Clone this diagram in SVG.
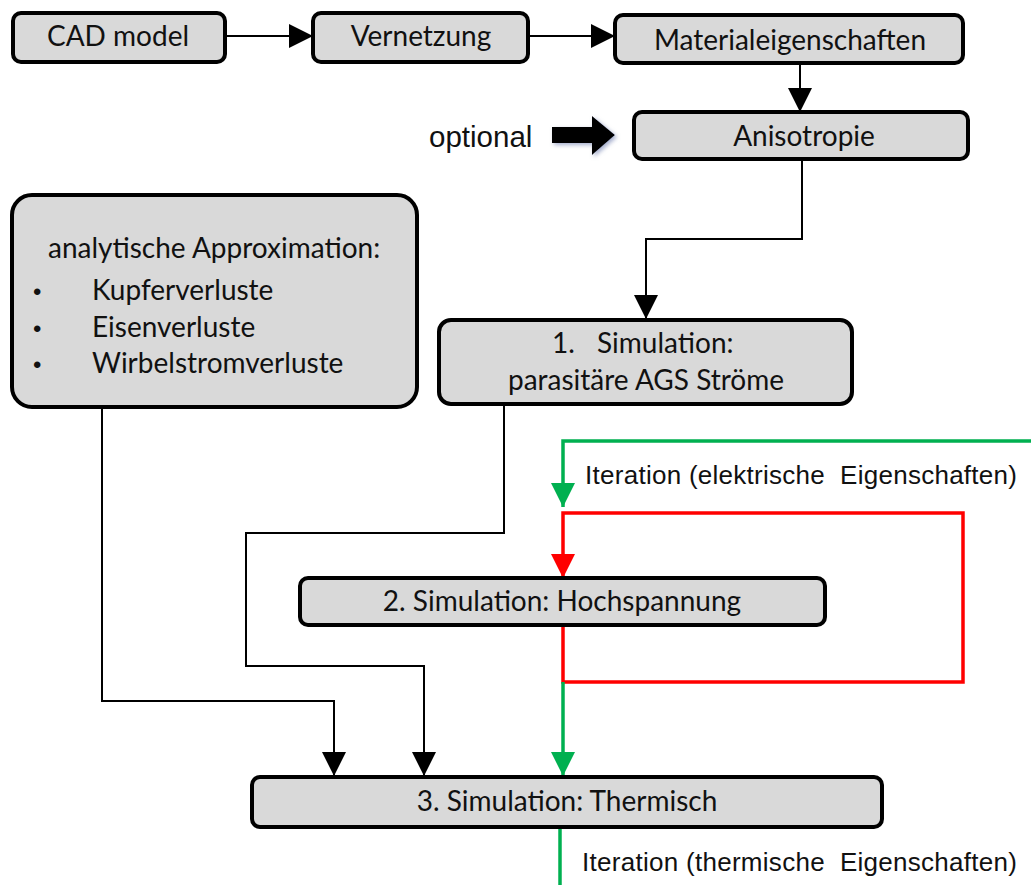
<svg xmlns="http://www.w3.org/2000/svg" width="1031" height="885" viewBox="0 0 1031 885">
<style>
.box{fill:#d9d9d9;stroke:#000;stroke-width:4}
.t{font-family:Lato,"Open Sans",sans-serif;font-size:28px;fill:#111}
.b{font-family:"Liberation Sans",Arial,sans-serif;font-size:24px;fill:#111}
.a{font-family:"Liberation Sans",Arial,sans-serif;font-size:26px;fill:#111;white-space:pre}
.k{fill:none;stroke:#000;stroke-width:2}
.g{fill:none;stroke:#00b050;stroke-width:3.5}
.r{fill:none;stroke:#ff0000;stroke-width:3.5}
</style>
<defs>
<marker id="ak" viewBox="0 0 24 24" refX="24" refY="12" markerWidth="24" markerHeight="24" markerUnits="userSpaceOnUse" orient="auto"><path d="M0,0 L24,12 L0,24 z" fill="#000"/></marker>
<marker id="ag" viewBox="0 0 24 24" refX="24" refY="12" markerWidth="24" markerHeight="24" markerUnits="userSpaceOnUse" orient="auto"><path d="M0,0 L24,12 L0,24 z" fill="#00b050"/></marker>
<marker id="ar" viewBox="0 0 24 24" refX="24" refY="12" markerWidth="24" markerHeight="24" markerUnits="userSpaceOnUse" orient="auto"><path d="M0,0 L24,12 L0,24 z" fill="#ff0000"/></marker>
<filter id="sh" x="-20%" y="-20%" width="150%" height="150%"><feDropShadow dx="2" dy="2" stdDeviation="2" flood-color="#8f9ac0" flood-opacity="0.8"/></filter>
</defs>

<g id="connectors">
<path class="k" d="M225,36 H313" marker-end="url(#ak)"/>
<path class="k" d="M528,36 H615" marker-end="url(#ak)"/>
<path class="k" d="M800,63 V112" marker-end="url(#ak)"/>
<path class="k" d="M802,159 V239 H646 V319" marker-end="url(#ak)"/>
<path class="k" d="M102,405 V701 H334 V776" marker-end="url(#ak)"/>
<path class="k" d="M504,403 V533 H246 V666 H424 V776" marker-end="url(#ak)"/>
<path class="g" d="M1031,441 H563 V507" marker-end="url(#ag)"/>
<path class="r" d="M563,625 V682 H963 V513 H563 V578" marker-end="url(#ar)"/>
<path class="g" d="M563,682 V776" marker-end="url(#ag)"/>
<path class="g" d="M560,827 V885"/>
<text class="a" x="585" y="484" xml:space="preserve" textLength="432" lengthAdjust="spacing">Iteration (elektrische  Eigenschaften)</text>
<text class="a" x="582" y="871" xml:space="preserve" textLength="435" lengthAdjust="spacing">Iteration (thermische  Eigenschaften)</text>
</g>

<g id="optional">
<text class="a" x="429" y="147" style="font-size:29.5px">optional</text>
<polygon points="552,127 592,127 592,116 615,135 592,155 592,143 552,143" fill="#000" filter="url(#sh)"/>
</g>

<g id="cad">
<rect class="box" x="13" y="13" width="212" height="49" rx="8"/>
<text class="t" x="118" y="46" text-anchor="middle">CAD model</text>
</g>
<g id="vernetzung">
<rect class="box" x="313" y="13" width="215" height="49" rx="8"/>
<text class="t" x="421" y="46" text-anchor="middle">Vernetzung</text>
</g>
<g id="material">
<rect class="box" x="615" y="15" width="348" height="48" rx="8"/>
<text class="t" x="790" y="50" text-anchor="middle">Materialeigenschaften</text>
</g>
<g id="anisotropie">
<rect class="box" x="634" y="112" width="334" height="47" rx="8"/>
<text class="t" x="804" y="146" text-anchor="middle">Anisotropie</text>
</g>
<g id="analytisch">
<rect class="box" x="12" y="195" width="405" height="212" rx="20"/>
<text class="t" x="48" y="258">analytische Approximation:</text>
<text class="b" x="33" y="300">•</text>
<text class="t" x="92" y="300">Kupferverluste</text>
<text class="b" x="33" y="337">•</text>
<text class="t" x="92" y="337">Eisenverluste</text>
<text class="b" x="33" y="373">•</text>
<text class="t" x="92" y="373">Wirbelstromverluste</text>
</g>
<g id="sim1">
<rect class="box" x="439" y="320" width="413" height="84" rx="12"/>
<text class="t" x="552" y="353">1.</text>
<text class="t" x="597" y="353">Simulation:</text>
<text class="t" x="646" y="390" text-anchor="middle">parasitäre AGS Ströme</text>
</g>
<g id="sim2">
<rect class="box" x="300" y="578" width="525" height="47" rx="8"/>
<text class="t" x="562" y="611" text-anchor="middle">2. Simulation: Hochspannung</text>
</g>
<g id="sim3">
<rect class="box" x="252" y="777" width="630" height="50" rx="8"/>
<text class="t" x="567" y="811" text-anchor="middle">3. Simulation: Thermisch</text>
</g>
</svg>
